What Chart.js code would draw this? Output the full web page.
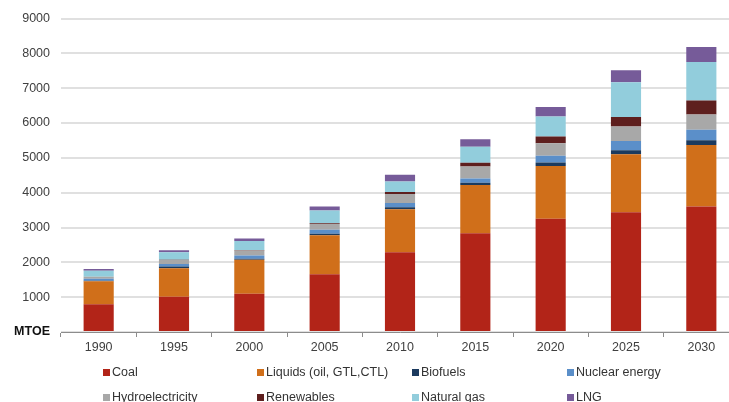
<!DOCTYPE html>
<html>
<head>
<meta charset="utf-8">
<script src="https://cdn.jsdelivr.net/npm/chart.js@4.4.1/dist/chart.umd.min.js"></script>
<style>
  html, body { margin: 0; padding: 0; background: #fff; overflow: hidden; width: 729px; height: 402px; }
  #wrap { position: absolute; left: 0; top: 0; width: 745px; height: 402px; }
  #legend { position: absolute; left: 0; top: 0; width: 729px; height: 402px; pointer-events: none;
            font-family: "Liberation Sans", Arial, sans-serif; font-size: 12.5px; color: #333; }
  .item { position: absolute; height: 16px; line-height: 16px; white-space: nowrap; }
  .box { display: inline-block; width: 7px; height: 7px; margin-right: 2px; vertical-align: 0px; }
</style>
</head>
<body>
<div id="wrap"><canvas id="c" width="745" height="402"></canvas></div>
<div id="legend"></div>
<script>
const categories = ['1990', '1995', '2000', '2005', '2010', '2015', '2020', '2025', '2030'];
const coal       = [800, 1009, 1095, 1657, 2286, 2838, 3248, 3438, 3600];
const liquids    = [660, 820, 981, 1124, 1238, 1381, 1514, 1667, 1771];
const biofuels   = [10, 48, 28, 38, 57, 67, 105, 114, 133];
const nuclear    = [57, 76, 95, 114, 124, 124, 190, 267, 305];
const hydro      = [57, 114, 143, 171, 257, 343, 362, 410, 438];
const renewables = [5, 10, 10, 20, 57, 105, 190, 276, 400];
const naturalGas = [170, 210, 257, 362, 305, 457, 581, 1000, 1105];
const lng        = [50, 57, 76, 114, 190, 219, 267, 343, 429];
const seriesNames = ['Coal', 'Liquids (oil, GTL,CTL)', 'Biofuels', 'Nuclear energy',
                     'Hydroelectricity', 'Renewables', 'Natural gas', 'LNG'];
const yTicks = [0, 1000, 2000, 3000, 4000, 5000, 6000, 7000, 8000, 9000];
const unitLabel = 'MTOE';

const colors = ['#B22418', '#D06F1A', '#1B3A5E', '#5B8FC9', '#A8A8A8', '#5E1F1E', '#92CDDC', '#765B99'];
const seriesData = [coal, liquids, biofuels, nuclear, hydro, renewables, naturalGas, lng];

const datasets = seriesNames.map((name, i) => ({
  label: name,
  data: seriesData[i],
  backgroundColor: colors[i],
  borderWidth: 0,
  barPercentage: 0.4,
  categoryPercentage: 1.0
}));

new Chart(document.getElementById('c'), {
  type: 'bar',
  data: { labels: categories, datasets },
  options: {
    responsive: false,
    devicePixelRatio: 1,
    animation: false,
    layout: { padding: { left: 0, right: 6, top: 17, bottom: 0 } },
    plugins: { legend: { display: false }, tooltip: { enabled: false } },
    scales: {
      x: {
        stacked: true,
        grid: { display: true, drawOnChartArea: false, drawTicks: true, tickLength: 5, color: '#8c8c8c', offset: true },
        border: { display: true, color: '#8c8c8c', width: 1 },
        ticks: { color: '#404040', font: { family: '"Liberation Sans", Arial, sans-serif', size: 12.5 }, padding: 3, maxRotation: 0 },
        afterFit: (s) => { s.height = 70; }
      },
      y: {
        stacked: true,
        min: 0, max: 9000,
        afterBuildTicks: (s) => { s.ticks = yTicks.map(v => ({ value: v })); },
        grid: { color: '#e0e0e0', lineWidth: 2, drawTicks: false },
        border: { display: false },
        ticks: {
          padding: 11,
          color: (ctx) => ctx.tick && ctx.tick.value === 0 ? '#111' : '#404040',
          font: (ctx) => ({ family: '"Liberation Sans", Arial, sans-serif', size: 12.5,
                            weight: ctx.tick && ctx.tick.value === 0 ? 'bold' : 'normal' }),
          callback: (v) => v === 0 ? unitLabel : String(v)
        },
        afterFit: (s) => { s.width = 61; }
      }
    }
  }
});

// HTML legend in a 4-column grid, built from the series names and colours
const legend = document.getElementById('legend');
const colX = [103, 257, 412, 567];
const rowY = [364, 389];
seriesNames.forEach((name, i) => {
  const d = document.createElement('div');
  d.className = 'item';
  d.style.left = colX[i % 4] + 'px';
  d.style.top = rowY[Math.floor(i / 4)] + 'px';
  const b = document.createElement('span');
  b.className = 'box';
  b.style.background = colors[i];
  d.appendChild(b);
  d.appendChild(document.createTextNode(name));
  legend.appendChild(d);
});
</script>
</body>
</html>
